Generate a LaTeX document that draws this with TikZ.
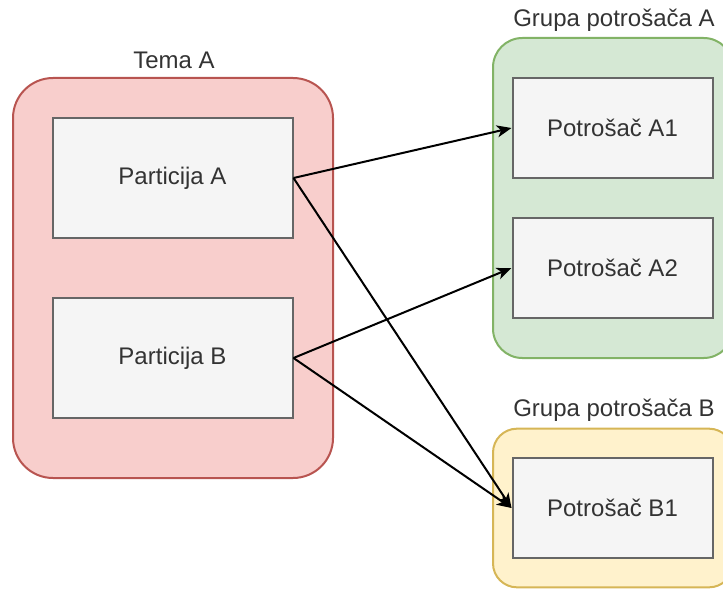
\documentclass[tikz,border=0pt]{standalone}
\usepackage{fontspec}
\setmainfont{Liberation Sans}
\usetikzlibrary{arrows.meta}
\definecolor{redfill}{HTML}{F8CECC}
\definecolor{redline}{HTML}{B85450}
\definecolor{greenfill}{HTML}{D5E8D4}
\definecolor{greenline}{HTML}{82B366}
\definecolor{yellowfill}{HTML}{FFF2CC}
\definecolor{yellowline}{HTML}{D6B656}
\definecolor{boxfill}{HTML}{F5F5F5}
\definecolor{boxline}{HTML}{666666}
\definecolor{txt}{HTML}{333333}
\tikzset{
  container/.style={draw, line width=1.5pt, inner sep=0pt},
  part/.style={draw=boxline, fill=boxfill, line width=1.5pt, minimum width=180pt, minimum height=90pt, inner sep=0pt, text=txt, font=\fontsize{18}{22}\selectfont},
  cons/.style={draw=boxline, fill=boxfill, line width=1.5pt, minimum width=150pt, minimum height=75pt, inner sep=0pt, text=txt, font=\fontsize{18}{22}\selectfont},
  lbl/.style={text=txt, font=\fontsize{18}{22}\selectfont, inner sep=0pt},
  conn/.style={line width=1.5pt, -{Stealth[length=11pt, width=9pt, inset=3pt]}}
}
\begin{document}
\begin{tikzpicture}[x=0.75pt, y=-0.75pt]
\useasboundingbox (0,0) rectangle (723,588);
% containers
\node[container, draw=redline, fill=redfill, rounded corners=30pt, minimum width=240pt, minimum height=300pt] (tema) at (173,278) {};
\node[container, draw=greenline, fill=greenfill, rounded corners=22pt, minimum width=180pt, minimum height=240pt] (grpA) at (613,198) {};
\node[container, draw=yellowline, fill=yellowfill, rounded corners=18pt, minimum width=180pt, minimum height=119pt] (grpB) at (613,508) {};
% labels
\node[lbl] (temaLbl) at (174,60) {Tema A};
\node[lbl] (grpALbl) at (614,20) {Grupa potrošača A};
\node[lbl] (grpBLbl) at (614,410) {Grupa potrošača B};
% inner boxes
\node[part] (pa) at (172.5,178) {Particija A};
\node[part] (pb) at (172.5,358) {Particija B};
\node[cons] (a1) at (612.5,128) {Potrošač A1};
\node[cons] (a2) at (612.5,268) {Potrošač A2};
\node[cons] (b1) at (612.5,508) {Potrošač B1};
% connectors
\draw[conn] (pa.east) -- (a1.west);
\draw[conn] (pa.east) -- (b1.west);
\draw[conn] (pb.east) -- (a2.west);
\draw[conn] (pb.east) -- (b1.west);
\end{tikzpicture}
\end{document}
